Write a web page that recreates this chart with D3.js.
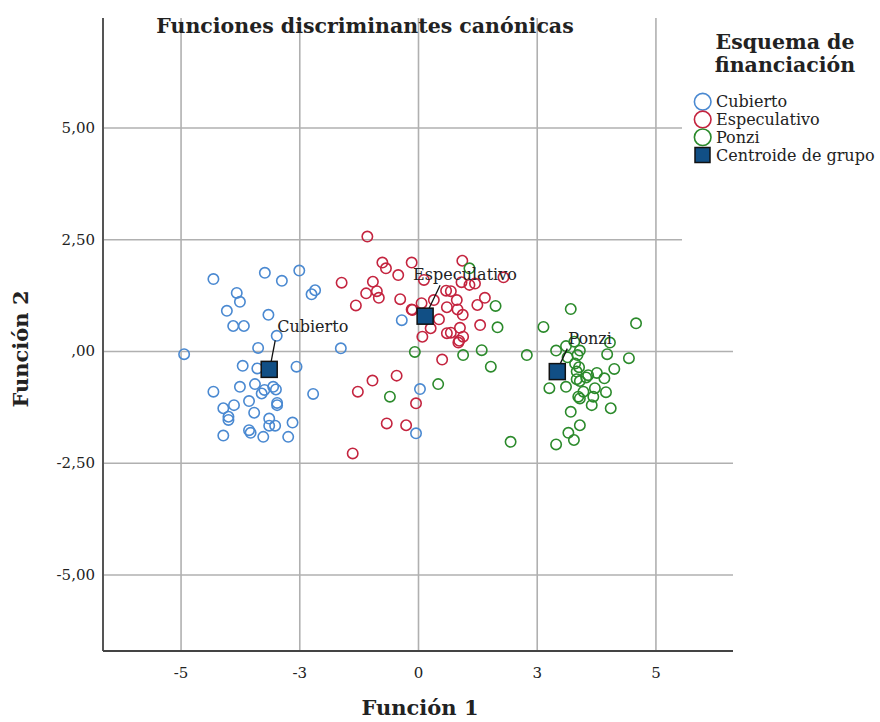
<!DOCTYPE html>
<html>
<head>
<meta charset="utf-8">
<script src="https://cdn.jsdelivr.net/npm/d3@7"></script>
<style>
  body { margin: 0; background: #fff; }
  text { font-family: "DejaVu Serif", serif; fill: #222; }
</style>
</head>
<body>
<div id="chart"></div>
<script>
// data (Función 1 is in grid units of 3)
const groups = ["Cubierto", "Especulativo", "Ponzi"];
const colors = ["#4a89d1", "#c4243f", "#2b8a2b"];

const cubiertoX = [-5.17, -3.87, -3.44, -3.0, -4.58, -4.5, -4.83, -3.78, -4.67, -4.4, -2.6, -2.69, -3.57, -4.04, -5.91, -1.95, -0.41, -4.43, -4.06, -3.07, -5.17, -4.5, -4.12, -3.95, -3.88, -3.66, -3.59, -2.65, -4.27, -4.92, -4.65, -3.56, -3.56, -4.14, -4.79, -4.79, -3.76, -3.76, -3.61, -3.17, -4.27, -4.23, -4.92, -3.91, -3.28, 0.05, -0.05];
const cubiertoY = [1.61, 1.75, 1.57, 1.8, 1.3, 1.1, 0.9, 0.81, 0.56, 0.56, 1.36, 1.27, 0.34, 0.07, -0.07, 0.06, 0.69, -0.33, -0.39, -0.35, -0.91, -0.8, -0.74, -0.95, -0.87, -0.8, -0.86, -0.96, -1.12, -1.28, -1.21, -1.16, -1.21, -1.38, -1.47, -1.54, -1.51, -1.67, -1.67, -1.6, -1.77, -1.83, -1.89, -1.92, -1.92, -0.85, -1.84];

const especulativoX = [-1.28, -0.9, -0.81, -0.16, -0.5, -1.93, -1.14, -1.31, -1.04, -0.99, -1.57, -0.45, -0.14, 0.11, 1.12, 0.15, 1.1, 1.3, 1.44, 2.16, 0.71, 0.83, 0.98, 0.73, 1.0, 1.13, 1.69, 1.5, 0.09, 0.4, 0.53, 0.32, 0.73, 0.83, 1.06, 1.57, 1.14, 1.04, 1.02, 0.61, -0.54, -1.15, -1.52, -0.05, -0.79, -0.3, -1.65, -0.16];
const especulativoY = [2.56, 1.98, 1.85, 1.98, 1.7, 1.53, 1.55, 1.29, 1.34, 1.19, 1.02, 1.16, 0.92, 0.32, 2.02, 1.59, 1.54, 1.48, 1.51, 1.65, 1.35, 1.34, 1.14, 0.98, 0.93, 0.81, 1.19, 1.03, 1.07, 1.14, 0.71, 0.51, 0.4, 0.41, 0.52, 0.58, 0.32, 0.23, 0.19, -0.19, -0.55, -0.66, -0.91, -1.17, -1.62, -1.66, -2.29, 0.93];

const ponziX = [1.3, 1.96, 2.01, 3.17, -0.08, 1.14, 1.61, 2.75, 1.84, 0.51, -0.71, 2.34, 3.86, 5.51, 3.49, 3.74, 3.95, 4.09, 4.03, 3.78, 4.85, 4.78, 5.33, 3.97, 4.07, 4.01, 4.3, 4.52, 4.96, 4.71, 4.01, 4.09, 4.25, 3.32, 3.74, 4.18, 4.47, 4.43, 4.75, 4.05, 4.09, 4.39, 4.87, 3.86, 4.09, 3.8, 3.94, 3.49];
const ponziY = [1.85, 1.01, 0.53, 0.54, -0.02, -0.09, 0.02, -0.09, -0.35, -0.74, -1.02, -2.03, 0.94, 0.62, 0.01, 0.11, 0.21, 0.01, -0.09, -0.14, 0.19, -0.07, -0.16, -0.28, -0.36, -0.46, -0.54, -0.49, -0.4, -0.61, -0.63, -0.67, -0.59, -0.83, -0.8, -0.91, -0.83, -1.02, -0.92, -1.02, -1.06, -1.21, -1.28, -1.36, -1.66, -1.83, -1.99, -2.09];

const centroidX = [-3.76, 0.18, 3.52];
const centroidY = [-0.41, 0.78, -0.46];

const xTickValues = [-6, -3, 0, 3, 6];
const xTickLabels = ["-5", "-3", "0", "3", "5"];
const yTickValues = [-5, -2.5, 0, 2.5, 5];
const yTickLabels = ["-5,00", "-2,50", ",00", "2,50", "5,00"];

const legendLabels = ["Cubierto", "Especulativo", "Ponzi", "Centroide de grupo"];

const width = 880, height = 722;
const plot = { left: 103, right: 733, top: 18, bottom: 651 };

const x = d3.scaleLinear().domain([-7.96, 7.96]).range([plot.left, plot.right]);
const y = d3.scaleLinear().domain([-6.71, 7.45]).range([plot.bottom, plot.top]);

const svg = d3.select("#chart").append("svg")
  .attr("width", width)
  .attr("height", height);

// grid via axes
const xAxis = svg.append("g")
  .attr("transform", `translate(0,${plot.bottom})`)
  .call(d3.axisBottom(x)
    .tickValues(xTickValues)
    .tickSize(-(plot.bottom - plot.top))
    .tickFormat((d, i) => xTickLabels[i]));
xAxis.select(".domain").remove();
xAxis.selectAll(".tick line").attr("stroke", "#b0b0b0").attr("stroke-width", 1.6);
xAxis.selectAll(".tick text")
  .attr("y", 16)
  .style("font-family", "DejaVu Serif")
  .style("font-size", "15px")
  .attr("fill", "#222");

const yAxis = svg.append("g")
  .attr("transform", `translate(${plot.left},0)`)
  .call(d3.axisLeft(y)
    .tickValues(yTickValues)
    .tickSize(-(plot.right - plot.left))
    .tickFormat((d, i) => yTickLabels[i]));
yAxis.select(".domain").remove();
yAxis.selectAll(".tick line").attr("stroke", "#b0b0b0").attr("stroke-width", 1.6);
yAxis.selectAll(".tick text")
  .attr("x", -8)
  .style("font-family", "DejaVu Serif")
  .style("font-size", "15px")
  .attr("fill", "#222");

// axis lines
svg.append("line")
  .attr("x1", plot.left).attr("x2", plot.left)
  .attr("y1", plot.top).attr("y2", plot.bottom)
  .attr("stroke", "#555").attr("stroke-width", 2);
svg.append("line")
  .attr("x1", plot.left).attr("x2", plot.right)
  .attr("y1", plot.bottom).attr("y2", plot.bottom)
  .attr("stroke", "#444").attr("stroke-width", 2);

// points
const series = [
  { xs: cubiertoX, ys: cubiertoY },
  { xs: especulativoX, ys: especulativoY },
  { xs: ponziX, ys: ponziY },
];
series.forEach((s, gi) => {
  svg.append("g")
    .selectAll("circle")
    .data(s.xs.map((v, i) => [v, s.ys[i]]))
    .join("circle")
    .attr("cx", (d) => x(d[0]))
    .attr("cy", (d) => y(d[1]))
    .attr("r", 5.2)
    .attr("fill", "none")
    .attr("stroke", colors[gi])
    .attr("stroke-width", 1.6);
});

// centroid labels with leader lines
const labelOffsets = [[8, -37], [-12, -36], [11, -28]];
const leaderEnds = [[[2, -8], [6, -29]], [[4, -8], [15, -31]], [[3, -8], [10, -23]]];
groups.forEach((g, i) => {
  const cx = x(centroidX[i]), cy = y(centroidY[i]);
  svg.append("line")
    .attr("x1", cx + leaderEnds[i][0][0]).attr("y1", cy + leaderEnds[i][0][1])
    .attr("x2", cx + leaderEnds[i][1][0]).attr("y2", cy + leaderEnds[i][1][1])
    .attr("stroke", "#111").attr("stroke-width", 1.3);
  svg.append("text")
    .attr("x", cx + labelOffsets[i][0])
    .attr("y", cy + labelOffsets[i][1])
    .style("font-size", "16px")
    .text(g);
});

// centroids
const sq = 16;
svg.append("g")
  .selectAll("rect")
  .data(centroidX.map((v, i) => [v, centroidY[i]]))
  .join("rect")
  .attr("x", (d) => x(d[0]) - sq / 2)
  .attr("y", (d) => y(d[1]) - sq / 2)
  .attr("width", sq)
  .attr("height", sq)
  .attr("fill", "#114f85")
  .attr("stroke", "#111")
  .attr("stroke-width", 1.5);

// title
svg.append("text")
  .attr("x", 365).attr("y", 33)
  .attr("text-anchor", "middle")
  .style("font-size", "20.5px")
  .style("font-weight", "bold")
  .text("Funciones discriminantes canónicas");

// axis titles
svg.append("text")
  .attr("x", 420).attr("y", 715)
  .attr("text-anchor", "middle")
  .style("font-size", "21px")
  .style("font-weight", "bold")
  .text("Función 1");
svg.append("text")
  .attr("transform", "translate(28,349) rotate(-90)")
  .attr("text-anchor", "middle")
  .style("font-size", "21px")
  .style("font-weight", "bold")
  .text("Función 2");

// legend (white box hides the gridline ends)
const legend = svg.append("g");
legend.append("rect")
  .attr("x", 682).attr("y", 0)
  .attr("width", width - 682).attr("height", 260)
  .attr("fill", "#fff");
legend.append("text")
  .attr("x", 785).attr("y", 49)
  .attr("text-anchor", "middle")
  .style("font-size", "20.5px")
  .style("font-weight", "bold")
  .text("Esquema de");
legend.append("text")
  .attr("x", 785).attr("y", 72)
  .attr("text-anchor", "middle")
  .style("font-size", "20.5px")
  .style("font-weight", "bold")
  .text("financiación");

const legendY = d3.scalePoint().domain(legendLabels).range([101.7, 155]);
legendLabels.forEach((lab, i) => {
  const ly = legendY(lab);
  if (i < 3) {
    legend.append("circle")
      .attr("cx", 702.7).attr("cy", ly).attr("r", 8.3)
      .attr("fill", "none")
      .attr("stroke", colors[i])
      .attr("stroke-width", 1.6);
  } else {
    legend.append("rect")
      .attr("x", 695).attr("y", ly - 7.5)
      .attr("width", 15).attr("height", 15)
      .attr("fill", "#114f85")
      .attr("stroke", "#111")
      .attr("stroke-width", 1.5);
  }
  legend.append("text")
    .attr("x", 716).attr("y", ly + 5.5)
    .style("font-size", "16px")
    .text(lab);
});
</script>
</body>
</html>
